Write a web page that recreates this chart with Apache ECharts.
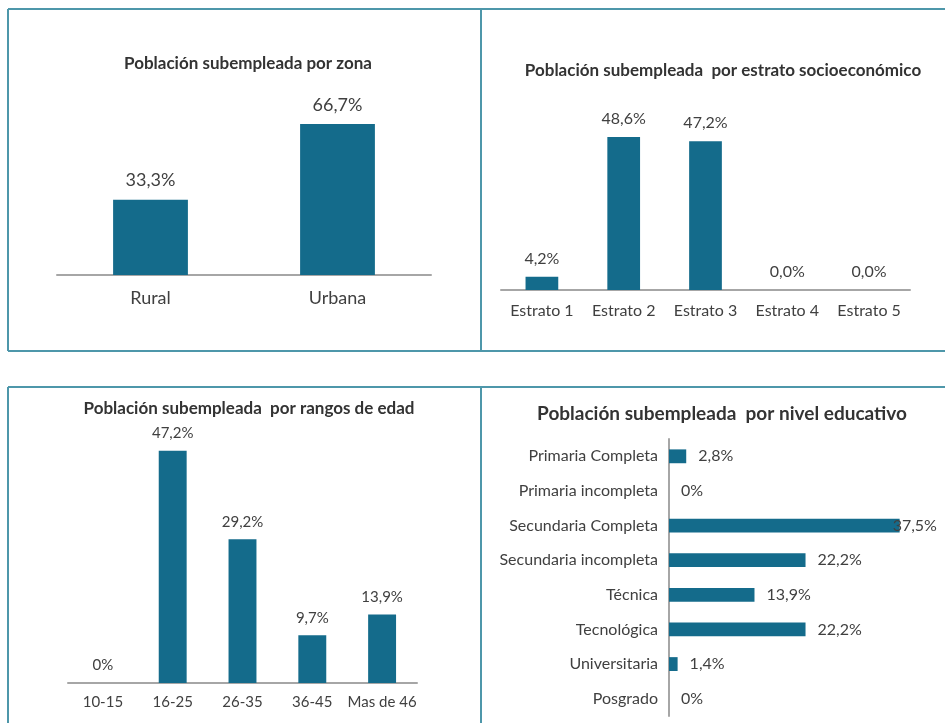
<!DOCTYPE html>
<html>
<head>
<meta charset="utf-8">
<script src="https://cdn.jsdelivr.net/npm/echarts@6/dist/echarts.min.js"></script>
<style>
  html, body { margin: 0; padding: 0; background: #fff; }
  #main { width: 945px; height: 723px; }
</style>
</head>
<body>
<div id="main"></div>
<script>
  // datos
  var zonaCats = ['Rural', 'Urbana'];
  var zonaVals = [33.3, 66.7];

  var estratoCats = ['Estrato 1', 'Estrato 2', 'Estrato 3', 'Estrato 4', 'Estrato 5'];
  var estratoVals = [4.2, 48.6, 47.2, 0, 0];

  var edadCats = ['10-15', '16-25', '26-35', '36-45', 'Mas de 46'];
  var edadVals = [0, 47.2, 29.2, 9.7, 13.9];

  var eduCats = ['Primaria Completa', 'Primaria incompleta', 'Secundaria Completa', 'Secundaria incompleta',
                 'Técnica', 'Tecnológica', 'Universitaria', 'Posgrado'];
  var eduVals = [2.8, 0, 37.5, 22.2, 13.9, 22.2, 1.4, 0];

  var BAR = '#146b8b';
  var TXT = '#404040';
  var BORDE = '#4e97aa';
  var FONT = 'Lato, "Noto Sans", sans-serif';

  // 33.3 -> "33,3%" ; ceroCorto: 0 -> "0%"
  function pct(v, ceroCorto) {
    if (v === 0 && ceroCorto) return '0%';
    return v.toFixed(1).replace('.', ',') + '%';
  }

  function linea(x1, y1, x2, y2) {
    return { type: 'line', shape: { x1: x1, y1: y1, x2: x2, y2: y2 },
             style: { stroke: BORDE, lineWidth: 2 }, silent: true };
  }

  function titulo(text, x, y, size) {
    return { text: text, left: x, top: y, textAlign: 'center', textVerticalAlign: 'middle',
             textStyle: { fontFamily: FONT, fontWeight: 'bold', fontSize: size, color: '#333' } };
  }

  function catAxis(idx, cats, size, margin) {
    return { type: 'category', gridIndex: idx, data: cats,
             axisLine: { lineStyle: { color: '#a6a6a6', width: 2 } },
             axisTick: { show: false },
             axisLabel: { color: TXT, fontFamily: FONT, fontSize: size, margin: margin, interval: 0 } };
  }

  function valAxis(idx, max) {
    return { type: 'value', gridIndex: idx, min: 0, max: max, show: false, splitLine: { show: false } };
  }

  function serie(idx, vals, size, ceroCorto, pos) {
    return { type: 'bar', xAxisIndex: idx, yAxisIndex: idx, data: vals, barWidth: '40%',
             itemStyle: { color: BAR }, silent: true,
             label: { show: true, position: pos || 'top', distance: 10, color: TXT,
                      fontFamily: FONT, fontSize: size,
                      formatter: function (p) { return pct(p.value, ceroCorto); } } };
  }

  var eduSerie = serie(3, eduVals.map(function (v, i) {
    // la etiqueta de la barra mas larga queda metida sobre la barra
    if (v === Math.max.apply(null, eduVals)) return { value: v, label: { offset: [-19, 0] } };
    return v;
  }), 16, true, 'right');
  eduSerie.label.distance = 12;

  var chart = echarts.init(document.getElementById('main'));
  chart.setOption({
    animation: false,
    title: [
      titulo('Población subempleada por zona', 243, 59, 17),
      titulo('Población subempleada  por estrato socioeconómico', 718, 66, 17),
      titulo('Población subempleada  por rangos de edad', 244, 404, 17),
      titulo('Población subempleada  por nivel educativo', 717, 409, 19)
    ],
    grid: [
      { left: 57, top: 94, width: 374, height: 181 },
      { left: 501, top: 101, width: 409, height: 189 },
      { left: 68, top: 437, width: 349, height: 246 },
      { left: 669, top: 439, width: 246, height: 277 }
    ],
    xAxis: [
      catAxis(0, zonaCats, 18, 14),
      catAxis(1, estratoCats, 16, 13),
      catAxis(2, edadCats, 15, 12),
      valAxis(3, 40)
    ],
    yAxis: [
      valAxis(0, 80),
      valAxis(1, 60),
      valAxis(2, 50),
      Object.assign(catAxis(3, eduCats, 16, 11), { inverse: true })
    ],
    series: [
      serie(0, zonaVals, 18, false),
      serie(1, estratoVals, 16, false),
      serie(2, edadVals, 15, true),
      eduSerie
    ],
    graphic: [
      linea(8, 9, 945, 9),
      linea(8, 351, 945, 351),
      linea(8, 9, 8, 351),
      linea(481, 9, 481, 351),
      linea(8, 387, 945, 387),
      linea(8, 387, 8, 723),
      linea(481, 387, 481, 723)
    ]
  });
</script>
</body>
</html>
